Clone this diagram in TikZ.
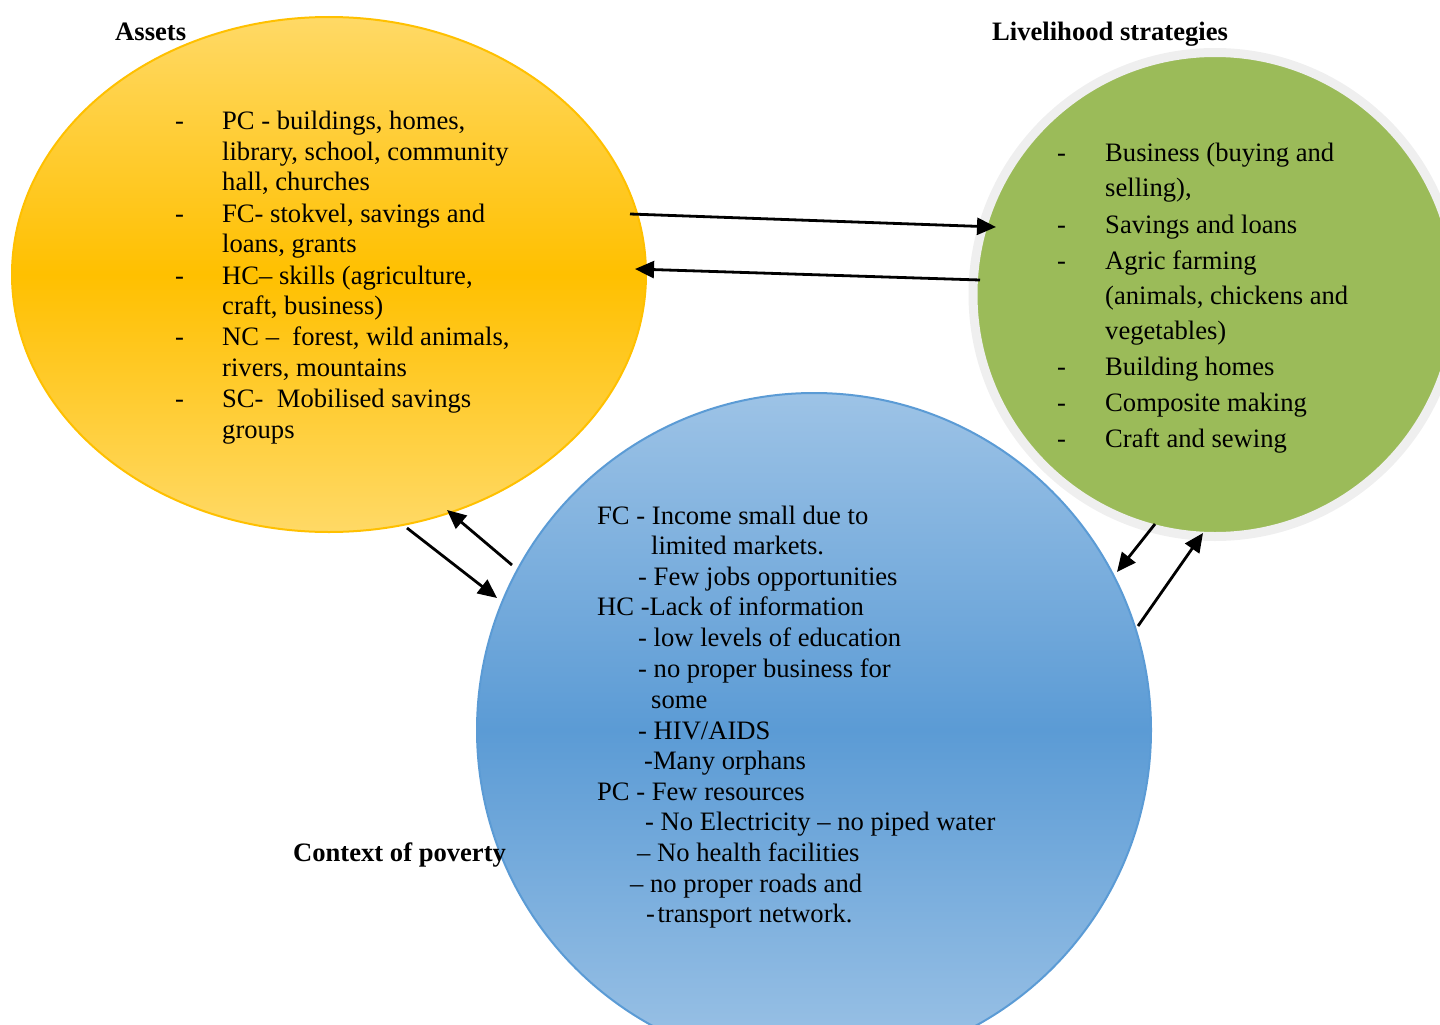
\documentclass[tikz,border=0pt]{standalone}
\usepackage{fontspec}
\setmainfont{Liberation Serif}
\usetikzlibrary{shapes.geometric,arrows.meta,calc}
\definecolor{ylight}{HTML}{FFD966}
\definecolor{ydark}{HTML}{FFC000}
\definecolor{bline}{HTML}{5B9BD5}
\definecolor{blight}{HTML}{9DC3E6}
\definecolor{bdark}{HTML}{5B9BD5}
\definecolor{gfill}{HTML}{9BBB59}
\definecolor{gring}{HTML}{EFEFEF}
\begin{document}
\begin{tikzpicture}[x=1pt,y=-1pt,
  txt/.style={anchor=base west,inner sep=0pt,font=\fontsize{26.6pt}{31pt}\selectfont},
  ttl/.style={txt,font=\fontsize{26.6pt}{31pt}\selectfont\bfseries},
  link/.style={line width=2.8pt,-{Triangle[length=19pt,width=17pt]}}]
\useasboundingbox (0,0) rectangle (1440,1025);
\clip (0,0) rectangle (1440,1025);

% the three capital circles
\node[ellipse,draw=ydark,line width=2pt,minimum width=634pt,minimum height=515pt,
  inner sep=0pt,outer sep=0pt,top color=ylight,bottom color=ylight,middle color=ydark]
  (assets) at (329,274.5) {};
\node[circle,draw=gring,line width=9pt,fill=gfill,minimum size=484pt,
  inner sep=0pt,outer sep=0pt] (strat) at (1215,294.5) {};
\node[circle,draw=bline,line width=2pt,minimum size=674pt,
  inner sep=0pt,outer sep=0pt,top color=blight,bottom color=blight,middle color=bdark]
  (pov) at (814,730) {};

% titles
\node[ttl] (tassets) at (115,41) {Assets};
\node[ttl] (tstrat) at (992,41) {Livelihood strategies};
\node[ttl] (tpov) at (293,861) {Context of poverty};

% assets list
\node[txt] (ad1) at (175,129) {-};
\node[txt] (ad2) at (175,222) {-};
\node[txt] (ad3) at (175,284) {-};
\node[txt] (ad4) at (175,345) {-};
\node[txt] (ad5) at (175,407) {-};
\node[txt] (a1) at (222,129) {PC - buildings, homes,};
\node[txt] (a2) at (222,160) {library, school, community};
\node[txt] (a3) at (222,190) {hall, churches};
\node[txt] (a4) at (222,222) {FC- stokvel, savings and};
\node[txt] (a5) at (222,252) {loans, grants};
\node[txt] (a6) at (222,284) {HC– skills (agriculture,};
\node[txt] (a7) at (222,314) {craft, business)};
\node[txt] (a8) at (222,345) {NC –\ \ forest, wild animals,};
\node[txt] (a9) at (222,376) {rivers, mountains};
\node[txt] (a10) at (222,407) {SC-\ \ Mobilised savings};
\node[txt] (a11) at (222,438) {groups};

% strategies list
\node[txt] (sd1) at (1057,161) {-};
\node[txt] (sd2) at (1057,233) {-};
\node[txt] (sd3) at (1057,269) {-};
\node[txt] (sd4) at (1057,375) {-};
\node[txt] (sd5) at (1057,411) {-};
\node[txt] (sd6) at (1057,447) {-};
\node[txt] (s1) at (1105,161) {Business (buying and};
\node[txt] (s2) at (1105,196) {selling),};
\node[txt] (s3) at (1105,233) {Savings and loans};
\node[txt] (s4) at (1105,269) {Agric farming};
\node[txt] (s5) at (1105,304) {(animals, chickens and};
\node[txt] (s6) at (1105,339) {vegetables)};
\node[txt] (s7) at (1105,375) {Building homes};
\node[txt] (s8) at (1105,411) {Composite making};
\node[txt] (s9) at (1105,447) {Craft and sewing};

% poverty context list
\node[txt] (p1) at (597,524) {FC - Income small due to};
\node[txt] (p2) at (651,554) {limited markets.};
\node[txt] (p3) at (638,585) {- Few jobs opportunities};
\node[txt] (p4) at (597,615) {HC -Lack of information};
\node[txt] (p5) at (638,646) {- low levels of education};
\node[txt] (p6) at (638,677) {- no proper business for};
\node[txt] (p7) at (651,708) {some};
\node[txt] (p8) at (638,739) {- HIV/AIDS};
\node[txt] (p9) at (644,769) {-Many orphans};
\node[txt] (p10) at (597,800) {PC - Few resources};
\node[txt] (p11) at (645,830) {- No Electricity – no piped water};
\node[txt] (p12) at (637,861) {– No health facilities};
\node[txt] (p13) at (630,892) {– no proper roads and};
\node[txt] (p14) at (646,922) {-\hspace{2.5pt}transport network.};

% connectors between the circles
\draw[link] ($(assets.center)+(301,-60.5)$) -- ($(strat.center)+(-219,-67.5)$);
\draw[link] ($(strat.center)+(-235,-14.5)$) -- ($(assets.center)+(306,-5.5)$);
\draw[link] ($(assets.center)+(78,253.5)$) -- ($(pov.center)+(-317,-132)$);
\draw[link] ($(pov.center)+(-302,-165)$) -- ($(assets.center)+(118,235.5)$);
\draw[link] ($(strat.center)+(-60,229.5)$) -- ($(pov.center)+(303,-158)$);
\draw[link] ($(pov.center)+(324,-104)$) -- ($(strat.center)+(-12,238.5)$);
\end{tikzpicture}
\end{document}
